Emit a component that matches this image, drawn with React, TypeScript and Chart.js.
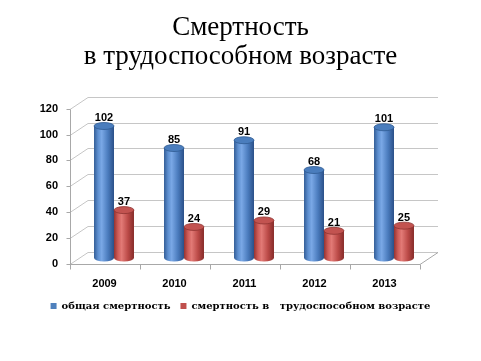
import React, { useEffect, useRef } from 'react';
import { Chart, registerables } from 'chart.js';

Chart.register(...registerables);

const categories = ['2009', '2010', '2011', '2012', '2013'];
const totalMortality = [102, 85, 91, 68, 101];
const workingAgeMortality = [37, 24, 29, 21, 25];
const seriesNames = ['общая смертность', 'смертность в   трудоспособном возрасте'];
const titleLines = ['Смертность', 'в трудоспособном возрасте'];
const yMin = 0;
const yMax = 120;
const yStep = 20;

const seriesColors = ['#4f81bd', '#c0504d'];
const cylinderStops = [
  ['#335d96', '#5d8fd0', '#7aa8e6', '#4a7bbd', '#2b5088'],
  ['#963331', '#cf5c58', '#e27a76', '#bb4a47', '#862c2a'],
];
const capColors = ['#4a7dbd', '#c25350'];
const capStroke = ['#2f5a92', '#8f3431'];

const DX = 9;
const DY = 6;

const depthPlugin = {
  id: 'depth3d',
  beforeDatasetsDraw(chart: any) {
    const { ctx } = chart;
    const x = chart.scales.x;
    const y = chart.scales.y;
    const left = x.left;
    const right = x.right;
    ctx.save();
    ctx.lineWidth = 1;
    ctx.strokeStyle = '#c6c6c6';
    y.ticks.forEach((t: any) => {
      const py = Math.round(y.getPixelForValue(t.value)) + 0.5;
      ctx.beginPath();
      ctx.moveTo(left - DX, py + DY);
      ctx.lineTo(left + DX, py - DY);
      ctx.lineTo(right + DX, py - DY);
      ctx.stroke();
    });
    const p0 = Math.round(y.getPixelForValue(yMin)) + 0.5;
    const pTop = Math.round(y.getPixelForValue(yMax)) + 0.5;
    ctx.strokeStyle = '#a8a8a8';
    ctx.beginPath();
    ctx.moveTo(left - DX, p0 + DY);
    ctx.lineTo(right - DX, p0 + DY);
    ctx.lineTo(right + DX, p0 - DY);
    ctx.stroke();
    const ax = Math.round(left - DX) + 0.5;
    ctx.beginPath();
    ctx.moveTo(ax, pTop + DY);
    ctx.lineTo(ax, p0 + DY);
    ctx.stroke();
    y.ticks.forEach((t: any) => {
      const py = Math.round(y.getPixelForValue(t.value)) + 0.5 + DY;
      ctx.beginPath();
      ctx.moveTo(ax - 4, py);
      ctx.lineTo(ax, py);
      ctx.stroke();
    });
    const n = categories.length;
    for (let i = 0; i <= n; i++) {
      const bx = Math.round(left - DX + ((right - left) * i) / n) + 0.5;
      ctx.beginPath();
      ctx.moveTo(bx, p0 + DY);
      ctx.lineTo(bx, p0 + DY + 5);
      ctx.stroke();
    }
    ctx.restore();
  },
  afterDatasetsDraw(chart: any) {
    const { ctx } = chart;
    chart.data.datasets.forEach((ds: any, di: number) => {
      const meta = chart.getDatasetMeta(di);
      meta.data.forEach((el: any, i: number) => {
        const { x, y, base, width } = el.getProps(['x', 'y', 'base', 'width'], true);
        const hw = width / 2;
        const ry = 3.5;
        const l = x - hw;
        const r = x + hw;
        ctx.save();
        const g = ctx.createLinearGradient(l, 0, r, 0);
        const st = cylinderStops[di];
        g.addColorStop(0, st[0]);
        g.addColorStop(0.2, st[1]);
        g.addColorStop(0.38, st[2]);
        g.addColorStop(0.7, st[3]);
        g.addColorStop(1, st[4]);
        ctx.fillStyle = g;
        ctx.beginPath();
        ctx.moveTo(l, y);
        ctx.lineTo(l, base);
        ctx.ellipse(x, base, hw, ry, 0, Math.PI, 0, true);
        ctx.lineTo(r, y);
        ctx.closePath();
        ctx.fill();
        ctx.beginPath();
        ctx.ellipse(x, y, hw, ry, 0, 0, Math.PI * 2);
        ctx.fillStyle = capColors[di];
        ctx.fill();
        ctx.strokeStyle = capStroke[di];
        ctx.lineWidth = 0.8;
        ctx.stroke();
        ctx.fillStyle = '#000';
        ctx.font = 'bold 11px "Liberation Sans", Arial, sans-serif';
        ctx.textAlign = 'center';
        ctx.textBaseline = 'alphabetic';
        ctx.fillText(String(ds.data[i]), x, y - 5);
        ctx.restore();
      });
    });
  },
};

export default function App() {
  const canvasRef = useRef<HTMLCanvasElement | null>(null);

  useEffect(() => {
    const canvas = canvasRef.current;
    if (!canvas) return;
    const chart = new Chart(canvas, {
      type: 'bar',
      data: {
        labels: categories,
        datasets: [
          {
            label: seriesNames[0],
            data: totalMortality,
            backgroundColor: seriesColors[0],
            borderWidth: 0,
            categoryPercentage: 0.57,
            barPercentage: 1,
          },
          {
            label: seriesNames[1],
            data: workingAgeMortality,
            backgroundColor: seriesColors[1],
            borderWidth: 0,
            categoryPercentage: 0.57,
            barPercentage: 1,
          },
        ],
      },
      options: {
        responsive: false,
        animation: false,
        devicePixelRatio: 1,
        layout: { padding: { left: 0, right: 0, top: 0, bottom: 40 } },
        plugins: {
          title: {
            display: true,
            text: titleLines,
            color: '#000',
            font: { family: '"Liberation Serif", "Times New Roman", serif', size: 27, weight: 'normal', lineHeight: 1.05 },
            padding: { top: 14, bottom: 32 },
          },
          legend: {
            position: 'bottom',
            labels: {
              color: '#000',
              boxWidth: 6,
              boxHeight: 6,
              padding: 10,
              font: { family: '"DejaVu Serif", "Liberation Serif", serif', size: 10, weight: 'bold' },
            },
          },
          tooltip: { enabled: false },
        },
        scales: {
          x: {
            grid: { display: false, drawTicks: false },
            border: { display: false },
            ticks: {
              color: '#000',
              padding: 19,
              labelOffset: -9.5,
              font: { family: '"Liberation Sans", Arial, sans-serif', size: 11, weight: 'bold' },
            },
            afterFit(s: any) {
              s.height = 33;
            },
          },
          y: {
            min: yMin,
            max: yMax,
            grid: { display: false, drawTicks: false },
            border: { display: false },
            ticks: {
              stepSize: yStep,
              color: '#000',
              padding: 21,
              labelOffset: DY,
              font: { family: '"Liberation Sans", Arial, sans-serif', size: 11, weight: 'bold' },
            },
            afterFit(s: any) {
              s.width = 79;
            },
          },
          yRight: {
            type: 'linear',
            position: 'right',
            display: true,
            grid: { display: false, drawTicks: false },
            border: { display: false },
            ticks: { display: false },
            afterFit(s: any) {
              s.width = 52;
            },
          },
        },
      },
      plugins: [depthPlugin],
    } as any);
    return () => chart.destroy();
  }, []);

  return (
    <div style={{ position: 'fixed', left: 0, top: 0, width: 481, height: 361, background: '#fff' }}>
      <canvas ref={canvasRef} width={481} height={361} style={{ display: 'block' }} />
    </div>
  );
}
